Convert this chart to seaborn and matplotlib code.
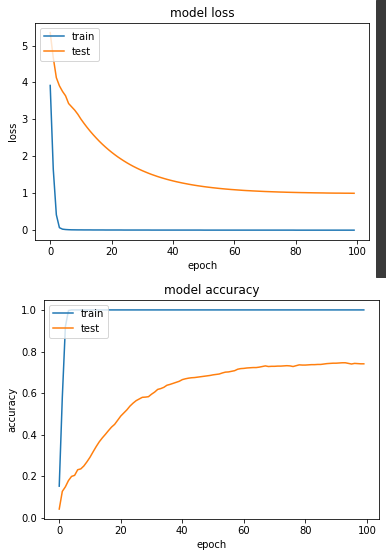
import numpy as np
import pandas as pd
import matplotlib
matplotlib.use("Agg")
import matplotlib.pyplot as plt
from matplotlib.patches import Rectangle
import seaborn as sns

# training history (100 epochs)
epochs = list(range(100))

train_loss = [3.92, 1.65, 0.42, 0.07, 0.03, 0.02, 0.015, 0.012, 0.011, 0.010,
              0.010, 0.009, 0.009, 0.009, 0.008, 0.008, 0.008, 0.008, 0.007, 0.007,
              0.007, 0.007, 0.007, 0.007, 0.006, 0.006, 0.006, 0.006, 0.006, 0.006,
              0.006, 0.006, 0.006, 0.005, 0.005, 0.005, 0.005, 0.005, 0.005, 0.005,
              0.005, 0.005, 0.005, 0.005, 0.005, 0.005, 0.005, 0.005, 0.005, 0.005,
              0.004, 0.004, 0.004, 0.004, 0.004, 0.004, 0.004, 0.004, 0.004, 0.004,
              0.004, 0.004, 0.004, 0.004, 0.004, 0.004, 0.004, 0.004, 0.004, 0.004,
              0.004, 0.004, 0.004, 0.004, 0.004, 0.004, 0.004, 0.004, 0.004, 0.004,
              0.003, 0.003, 0.003, 0.003, 0.003, 0.003, 0.003, 0.003, 0.003, 0.003,
              0.003, 0.003, 0.003, 0.003, 0.003, 0.003, 0.003, 0.003, 0.003, 0.003]

test_loss = [5.35, 4.67, 4.13, 3.91, 3.76, 3.64, 3.43, 3.34, 3.25, 3.14,
             3.010, 2.895, 2.786, 2.683, 2.587, 2.496, 2.409, 2.328, 2.252, 2.180,
             2.112, 2.048, 1.987, 1.931, 1.877, 1.826, 1.778, 1.733, 1.691, 1.651,
             1.613, 1.578, 1.544, 1.512, 1.483, 1.454, 1.428, 1.403, 1.379, 1.357,
             1.336, 1.316, 1.298, 1.280, 1.264, 1.248, 1.233, 1.219, 1.206, 1.194,
             1.182, 1.171, 1.161, 1.151, 1.142, 1.133, 1.125, 1.117, 1.110, 1.103,
             1.097, 1.091, 1.085, 1.079, 1.074, 1.070, 1.065, 1.061, 1.057, 1.053,
             1.049, 1.046, 1.043, 1.040, 1.037, 1.034, 1.032, 1.029, 1.027, 1.025,
             1.023, 1.021, 1.019, 1.018, 1.016, 1.015, 1.013, 1.012, 1.011, 1.010,
             1.008, 1.007, 1.006, 1.005, 1.005, 1.004, 1.003, 1.003, 1.002, 1.001]

train_acc = [0.153, 0.58, 0.92, 0.997] + [1.0] * 96

test_acc = [0.043, 0.128, 0.150, 0.180, 0.200, 0.205, 0.232, 0.236, 0.250, 0.270,
            0.292, 0.318, 0.343, 0.366, 0.385, 0.402, 0.420, 0.437, 0.450, 0.470,
            0.490, 0.505, 0.520, 0.538, 0.552, 0.564, 0.572, 0.580, 0.581, 0.583,
            0.595, 0.605, 0.618, 0.622, 0.628, 0.638, 0.642, 0.647, 0.652, 0.657,
            0.665, 0.669, 0.672, 0.674, 0.675, 0.677, 0.679, 0.681, 0.683, 0.685,
            0.688, 0.690, 0.692, 0.697, 0.701, 0.702, 0.705, 0.708, 0.715, 0.718,
            0.719, 0.721, 0.722, 0.723, 0.723, 0.725, 0.728, 0.731, 0.728, 0.729,
            0.729, 0.730, 0.730, 0.731, 0.732, 0.731, 0.728, 0.732, 0.736, 0.735,
            0.735, 0.736, 0.737, 0.737, 0.738, 0.738, 0.740, 0.742, 0.743, 0.744,
            0.744, 0.745, 0.746, 0.746, 0.743, 0.740, 0.743, 0.742, 0.741, 0.741]

blue = "#1f77b4"
orange = "#ff7f0e"

fig = plt.figure(figsize=(386 / 72, 556 / 72), dpi=72)

# top: loss
ax1 = fig.add_axes([0.0907, 0.5683, 0.866, 0.3908])
sns.lineplot(x=epochs, y=train_loss, ax=ax1, color=blue, label="train")
sns.lineplot(x=epochs, y=test_loss, ax=ax1, color=orange, label="test")
ax1.set_title("model loss")
ax1.set_xlabel("epoch")
ax1.set_ylabel("loss")
ax1.legend(loc="upper left")

# bottom: accuracy
ax2 = fig.add_axes([0.114, 0.0665, 0.868, 0.394])
sns.lineplot(x=epochs, y=train_acc, ax=ax2, color=blue, label="train")
sns.lineplot(x=epochs, y=test_acc, ax=ax2, color=orange, label="test")
ax2.set_title("model accuracy")
ax2.set_xlabel("epoch")
ax2.set_ylabel("accuracy")
ax2.legend(loc="upper left")

# notebook scrollbar strip on the right of the first output
fig.patches.append(Rectangle((376 / 386, (556 - 277) / 556), 10 / 386, 277 / 556,
                             transform=fig.transFigure, color="#3a3a3a", zorder=0))

fig.savefig("out.png", dpi=72)
